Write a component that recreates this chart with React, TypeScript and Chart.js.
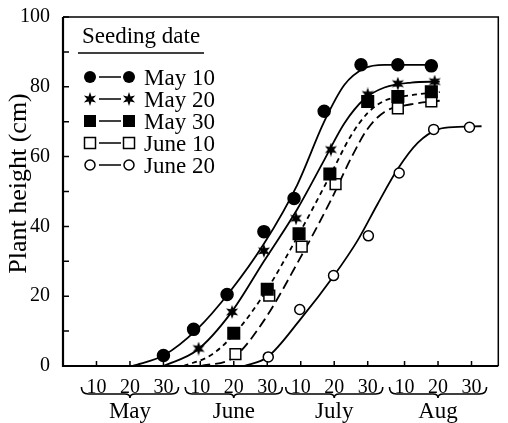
import React, { useEffect, useRef } from 'react';
import { Chart, registerables } from 'chart.js';

Chart.register(...registerables);

const FONT = "'Liberation Serif', 'Times New Roman', 'DejaVu Serif', serif";

// ---- axis data ----
const xTickDays = [10, 20, 30, 41, 51, 61, 71, 81, 91, 102, 112, 122];
const xTickLabels = ['10', '20', '30', '10', '20', '30', '10', '20', '30', '10', '20', '30'];
const months = ['May', 'June', 'July', 'Aug'];
const monthCenterDays = [20, 51, 81, 112];
const yTickValues = [0, 20, 40, 60, 80, 100];
const yTitle = 'Plant height (cm)';

// ---- legend ----
const legendTitle = 'Seeding date';
const seriesNames = ['May 10', 'May 20', 'May 30', 'June 10', 'June 20'];

// ---- observed points (day counted from May 0, height cm) ----
const may10Days = [30, 39, 49, 60, 69, 78, 89, 100, 110];
const may10Heights = [3, 10.5, 20.5, 38.5, 48, 73, 86.3, 86.3, 86];
const may20Days = [40.5, 50.5, 60, 69.6, 80, 91, 100, 111];
const may20Heights = [5, 15.5, 33, 42.3, 62, 77.8, 80.9, 81.5];
const may30Days = [51, 61, 70.5, 79.7, 91, 100, 110];
const may30Heights = [9.4, 22, 37.9, 55, 75.8, 77.2, 78.6];
const june10Days = [51.5, 61.6, 71.3, 81.4, 100, 110];
const june10Heights = [3.4, 20.2, 34.2, 52.1, 73.8, 75.8];
const june20Days = [61.3, 70.7, 80.8, 91.2, 100.4, 110.7, 121.4];
const june20Heights = [2.6, 16.2, 25.9, 37.3, 55.3, 67.8, 68.4];

// ---- fitted curves ----
const may10CurveDays = [20.7, 30, 40, 50, 60, 70, 78, 84, 90, 96, 110];
const may10CurveHeights = [0, 3, 10.5, 21.5, 35, 52, 70, 80.5, 85.3, 86.3, 86.3];
const may20CurveDays = [30, 40, 50, 60, 70, 78, 84, 90, 96, 104, 112.5];
const may20CurveHeights = [0, 4.5, 15, 30, 45, 59, 69.5, 76.5, 79.8, 81.2, 81.5];
const may30CurveDays = [36, 44, 51, 60, 70, 80, 86, 91, 96, 104, 112.5];
const may30CurveHeights = [0, 3, 9, 20.5, 37, 55, 66, 72.5, 76, 77.6, 78.5];
const june10CurveDays = [41, 51, 60, 70, 80, 86, 91, 96, 104, 112.5];
const june10CurveHeights = [0, 2.5, 13, 29.5, 47.5, 59.5, 68, 72.8, 75, 76];
const june20CurveDays = [54, 61, 71, 81, 88, 94, 100, 106, 112, 118, 125];
const june20CurveHeights = [0, 2.5, 13.5, 26, 36, 46.5, 56.5, 64, 67.8, 68.5, 68.7];

const pts = (xs: number[], ys: number[]) => xs.map((x, i) => ({ x, y: ys[i] }));

function starPath(ctx: CanvasRenderingContext2D, cx: number, cy: number, R: number, r: number) {
  ctx.beginPath();
  for (let i = 0; i < 12; i++) {
    const a = -Math.PI / 2 + (i * Math.PI) / 6;
    const rad = i % 2 === 0 ? R : r;
    ctx.lineTo(cx + rad * Math.cos(a), cy + rad * Math.sin(a));
  }
  ctx.closePath();
  ctx.fillStyle = '#000';
  ctx.fill();
}

function makeStar(size: number) {
  const c = document.createElement('canvas');
  c.width = size;
  c.height = size;
  const g = c.getContext('2d')!;
  starPath(g, size / 2, size / 2, size / 2, size / 4.6);
  return c;
}

type Kind = 'fc' | 'st' | 'fs' | 'os' | 'oc';
const kinds: Kind[] = ['fc', 'st', 'fs', 'os', 'oc'];

function drawMarker(ctx: CanvasRenderingContext2D, kind: Kind, x: number, y: number) {
  ctx.save();
  ctx.lineWidth = 1.5;
  ctx.strokeStyle = '#000';
  ctx.fillStyle = '#000';
  if (kind === 'fc') {
    ctx.beginPath();
    ctx.arc(x, y, 6, 0, Math.PI * 2);
    ctx.fill();
  } else if (kind === 'st') {
    starPath(ctx, x, y, 7, 3);
  } else if (kind === 'fs') {
    ctx.fillRect(x - 6, y - 6, 12, 12);
  } else if (kind === 'os') {
    ctx.fillStyle = '#fff';
    ctx.fillRect(x - 5.5, y - 5.5, 11, 11);
    ctx.strokeRect(x - 5.5, y - 5.5, 11, 11);
  } else {
    ctx.fillStyle = '#fff';
    ctx.beginPath();
    ctx.arc(x, y, 5, 0, Math.PI * 2);
    ctx.fill();
    ctx.stroke();
  }
  ctx.restore();
}

const decorPlugin = {
  id: 'decor',
  afterDraw(chart: any) {
    const { ctx, chartArea: a, scales } = chart;
    const xs = scales.x;
    const ys = scales.y;
    ctx.save();
    ctx.strokeStyle = '#000';
    ctx.fillStyle = '#000';
    // frame
    ctx.lineWidth = 1.5;
    ctx.beginPath();
    ctx.moveTo(a.left, a.top);
    ctx.lineTo(a.right, a.top);
    ctx.lineTo(a.right, a.bottom);
    ctx.stroke();
    // axes
    ctx.lineWidth = 2.2;
    ctx.beginPath();
    ctx.moveTo(a.left, a.top);
    ctx.lineTo(a.left, a.bottom);
    ctx.lineTo(a.right, a.bottom);
    ctx.stroke();
    // ticks
    ctx.lineWidth = 1.5;
    ctx.beginPath();
    xTickDays.forEach((d) => {
      const px = xs.getPixelForValue(d);
      ctx.moveTo(px, a.bottom);
      ctx.lineTo(px, a.bottom - 5);
    });
    for (let v = 10; v <= 100; v += 10) {
      const py = ys.getPixelForValue(v);
      ctx.moveTo(a.left, py);
      ctx.lineTo(a.left + 6, py);
    }
    ctx.stroke();

    // braces + month labels
    const by = a.bottom + 28;
    ctx.lineWidth = 1.6;
    months.forEach((m, i) => {
      const x0 = xs.getPixelForValue(monthCenterDays[i] - 14.5);
      const x1 = xs.getPixelForValue(monthCenterDays[i] + 14.5);
      const xc = (x0 + x1) / 2;
      ctx.beginPath();
      ctx.moveTo(x0, by - 7);
      ctx.quadraticCurveTo(x0, by, x0 + 7, by);
      ctx.lineTo(xc - 5, by);
      ctx.quadraticCurveTo(xc, by, xc, by + 4);
      ctx.quadraticCurveTo(xc, by, xc + 5, by);
      ctx.lineTo(x1 - 7, by);
      ctx.quadraticCurveTo(x1, by, x1, by - 7);
      ctx.stroke();
      ctx.font = `23px ${FONT}`;
      ctx.textAlign = 'center';
      ctx.textBaseline = 'alphabetic';
      ctx.fillText(m, xc, a.bottom + 52);
    });

    // y title
    ctx.save();
    ctx.translate(19, (a.top + a.bottom) / 2 - 8);
    ctx.rotate(-Math.PI / 2);
    ctx.font = `26px ${FONT}`;
    ctx.textAlign = 'center';
    ctx.textBaseline = 'middle';
    ctx.fillText(yTitle, 0, 0);
    ctx.restore();

    // legend
    ctx.font = `23px ${FONT}`;
    ctx.textAlign = 'left';
    ctx.textBaseline = 'alphabetic';
    ctx.fillText(legendTitle, 82, 43);
    ctx.lineWidth = 1.4;
    ctx.beginPath();
    ctx.moveTo(78, 53);
    ctx.lineTo(204, 53);
    ctx.stroke();
    seriesNames.forEach((name, i) => {
      const my = 77 + i * 22;
      drawMarker(ctx, kinds[i], 90, my);
      ctx.lineWidth = 1.5;
      ctx.beginPath();
      ctx.moveTo(99, my);
      ctx.lineTo(121, my);
      ctx.stroke();
      drawMarker(ctx, kinds[i], 129, my);
      ctx.fillStyle = '#000';
      ctx.fillText(name, 144, my + 8);
    });
    ctx.restore();
  },
};

export default function App() {
  const ref = useRef<HTMLCanvasElement | null>(null);
  useEffect(() => {
    document.body.style.margin = '0';
    const canvas = ref.current!;
    const star = makeStar(14);
    const curve = (xs: number[], ys: number[], dash: number[]) => ({
      type: 'line',
      data: pts(xs, ys),
      borderColor: '#000',
      borderWidth: 1.8,
      borderDash: dash,
      pointRadius: 0,
      cubicInterpolationMode: 'monotone',
      fill: false,
      order: 2,
    });
    const marks = (xs: number[], ys: number[], style: any, radius: number, bg: string) => ({
      type: 'line',
      data: pts(xs, ys),
      showLine: false,
      pointStyle: style,
      pointRadius: radius,
      pointBackgroundColor: bg,
      pointBorderColor: '#000',
      pointBorderWidth: 1.5,
      order: 1,
    });
    const chart = new Chart(canvas, {
      type: 'line',
      data: {
        datasets: [
          marks(may10Days, may10Heights, 'circle', 6, '#000'),
          marks(may20Days, may20Heights, star, 7, '#000'),
          marks(may30Days, may30Heights, 'rect', 8.2, '#000'),
          marks(june10Days, june10Heights, 'rect', 7.6, '#fff'),
          marks(june20Days, june20Heights, 'circle', 5, '#fff'),
          curve(may10CurveDays, may10CurveHeights, []),
          curve(may20CurveDays, may20CurveHeights, []),
          curve(may30CurveDays, may30CurveHeights, [5, 4]),
          curve(june10CurveDays, june10CurveHeights, [10, 5]),
          curve(june20CurveDays, june20CurveHeights, []),
        ] as any,
      },
      options: {
        responsive: false,
        animation: false,
        devicePixelRatio: 1,
        events: [],
        layout: { padding: { top: 13, right: 4, left: 0, bottom: 0 } },
        plugins: { legend: { display: false }, tooltip: { enabled: false } },
        scales: {
          x: {
            type: 'linear',
            min: 0,
            max: 130,
            grid: { display: false },
            border: { display: false },
            afterFit: (s: any) => { s.height = 57; },
            afterBuildTicks: (s: any) => { s.ticks = xTickDays.map((v) => ({ value: v })); },
            ticks: {
              autoSkip: false,
              maxRotation: 0,
              padding: 2,
              color: '#000',
              font: { family: FONT, size: 20 },
              callback: (v: any) => {
                const i = xTickDays.indexOf(Number(v));
                return i >= 0 ? xTickLabels[i] : '';
              },
            },
          },
          y: {
            type: 'linear',
            min: 0,
            max: 100,
            grid: { display: false },
            border: { display: false },
            afterFit: (s: any) => { s.width = 63; },
            afterBuildTicks: (s: any) => { s.ticks = yTickValues.map((v) => ({ value: v })); },
            ticks: {
              padding: 5,
              color: '#000',
              font: { family: FONT, size: 20 },
            },
          },
        },
      },
      plugins: [decorPlugin],
    } as any);
    return () => chart.destroy();
  }, []);
  return <canvas ref={ref} width={508} height={423} style={{ display: 'block', width: 508, height: 423 }} />;
}
